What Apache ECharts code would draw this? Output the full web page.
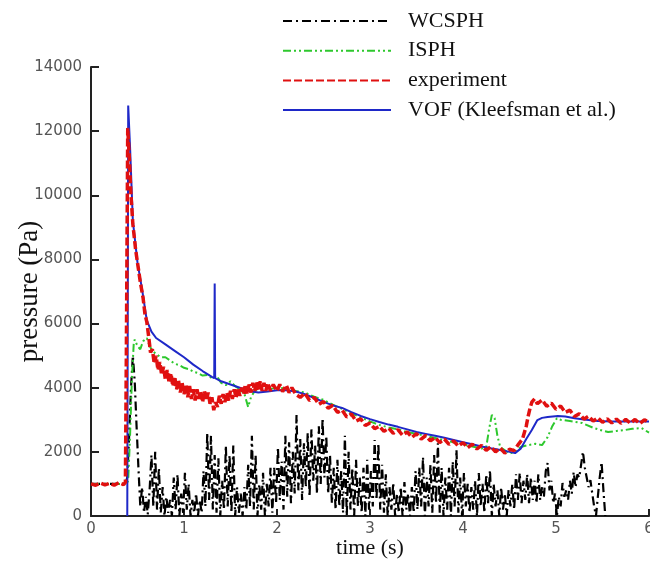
<!DOCTYPE html>
<html>
<head>
<meta charset="utf-8">
<title>pressure (Pa) vs time (s)</title>
<script src="https://cdn.jsdelivr.net/npm/echarts@6/dist/echarts.min.js"></script>
<style>
  html, body { margin: 0; padding: 0; background: #ffffff; }
  #chart { width: 650px; height: 561px; }
</style>
</head>
<body>
<div id="chart"></div>
<script>
// Axis ticks
const timeTicks = [0, 1, 2, 3, 4, 5, 6];
const pressureTicks = [0, 2000, 4000, 6000, 8000, 10000, 12000, 14000];

// Series names
const seriesNames = ['WCSPH', 'ISPH', 'experiment', 'VOF (Kleefsman et al.)'];

// WCSPH: [time (s), pressure (Pa)]
const wcsph = [
  [0,1000],[0.37,1000],[0.39,1200],[0.41,2500],[0.43,4000],[0.45,5000],[0.47,4200],[0.49,2800],[0.51,1500],[0.53,300],
  [0.55,900],[0.57,100],[0.59,600],[0.61,50],[0.63,800],[0.65,1900],[0.67,300],[0.69,2000],[0.71,200],[0.73,1500],
  [0.75,100],[0.77,900],[0.79,0],[0.81,600],[0.83,100],[0.85,500],[0.87,0],[0.89,1200],[0.91,200],[0.93,1300],
  [0.95,0],[0.97,700],[0.99,100],[1.01,1350],[1.03,200],[1.05,1000],[1.07,0],[1.09,500],[1.11,100],[1.13,700],
  [1.15,0],[1.17,500],[1.19,100],[1.21,1400],[1.23,300],[1.25,2600],[1.27,500],[1.29,2500],[1.31,200],[1.33,1900],
  [1.35,100],[1.37,1800],[1.39,0],[1.41,1100],[1.43,200],[1.45,2200],[1.47,300],[1.49,1900],[1.51,100],[1.53,2200],
  [1.55,0],[1.57,900],[1.59,100],[1.61,700],[1.63,0],[1.65,900],[1.67,200],[1.69,1600],[1.71,300],[1.73,2500],
  [1.75,200],[1.77,1900],[1.79,0],[1.81,1000],[1.83,200],[1.85,1350],[1.87,0],[1.89,1000],[1.91,300],[1.93,1500],
  [1.95,100],[1.97,1500],[1.99,400],[2.01,2150],[2.03,500],[2.05,1700],[2.07,200],[2.09,2500],[2.11,600],[2.13,2300],
  [2.15,400],[2.17,2000],[2.19,700],[2.21,3150],[2.23,800],[2.25,2400],[2.27,500],[2.29,2270],[2.31,900],[2.33,2600],
  [2.35,600],[2.37,2700],[2.39,1100],[2.41,2200],[2.43,700],[2.45,2800],[2.47,1000],[2.49,3050],[2.51,1200],[2.53,2500],
  [2.55,700],[2.57,1900],[2.59,400],[2.61,1500],[2.63,200],[2.65,1750],[2.67,300],[2.69,1400],[2.71,100],[2.73,2500],
  [2.75,0],[2.77,2000],[2.79,200],[2.81,1500],[2.83,0],[2.85,1750],[2.87,300],[2.89,1200],[2.91,100],[2.93,1500],
  [2.95,0],[2.97,1750],[2.99,200],[3.01,1400],[3.03,300],[3.05,2370],[3.07,500],[3.09,2270],[3.11,200],[3.13,1600],
  [3.15,100],[3.17,1300],[3.19,0],[3.21,900],[3.23,200],[3.25,1030],[3.27,0],[3.29,700],[3.31,100],[3.33,900],
  [3.35,0],[3.37,1060],[3.39,200],[3.41,700],[3.43,0],[3.45,900],[3.47,100],[3.49,1400],[3.51,200],[3.53,1500],
  [3.55,300],[3.57,1840],[3.59,0],[3.61,1200],[3.63,300],[3.65,1600],[3.67,100],[3.69,1900],[3.71,400],[3.73,2270],
  [3.75,100],[3.77,1500],[3.79,0],[3.81,1200],[3.83,200],[3.85,1500],[3.87,0],[3.89,1700],[3.91,300],[3.93,2060],
  [3.95,100],[3.97,1200],[3.99,0],[4.01,1340],[4.03,300],[4.05,1000],[4.07,100],[4.09,900],[4.11,200],[4.13,1100],
  [4.15,0],[4.17,1340],[4.19,300],[4.21,1000],[4.23,100],[4.25,1300],[4.27,400],[4.29,1430],[4.31,0],[4.33,1000],
  [4.35,300],[4.37,800],[4.39,0],[4.41,900],[4.43,200],[4.45,700],[4.47,0],[4.49,810],[4.51,300],[4.53,1000],
  [4.55,200],[4.57,1300],[4.59,500],[4.61,1340],[4.63,400],[4.65,1100],[4.67,500],[4.69,1300],[4.71,400],[4.73,1200],
  [4.75,500],[4.77,1100],[4.79,400],[4.81,1300],[4.83,500],[4.85,900],[4.87,600],[4.89,1400],[4.91,1650],[4.93,800],
  [4.95,1100],[4.97,400],[4.99,700],[5.01,0],[5.03,600],[5.05,300],[5.07,1030],[5.09,600],[5.11,800],[5.13,500],
  [5.15,1100],[5.17,700],[5.19,1370],[5.21,900],[5.23,1300],[5.25,1200],[5.27,1600],[5.29,2000],[5.31,1500],[5.33,1200],
  [5.35,900],[5.37,1120],[5.39,700],[5.41,300],[5.43,0],[5.45,600],[5.47,1200],[5.49,1680],[5.51,800],[5.53,0]
];

// ISPH: [time (s), pressure (Pa)]
const isph = [
  [0,1000],[0.38,1000],[0.40,1100],[0.42,2500],[0.44,4300],[0.46,5400],[0.47,5500],[0.50,5300],[0.53,5200],[0.56,5450],
  [0.60,5550],[0.63,5300],[0.66,5150],[0.70,5050],[0.75,4950],[0.80,4950],[0.85,4850],[0.90,4750],[0.95,4700],[1.00,4620],
  [1.05,4580],[1.10,4500],[1.15,4460],[1.20,4380],[1.25,4400],[1.30,4300],[1.35,4380],[1.40,4150],[1.45,4080],[1.50,4200],
  [1.55,4050],[1.60,3950],[1.65,3800],[1.69,3400],[1.72,3700],[1.76,3900],[1.80,3980],[1.90,3950],[2.00,4000],[2.10,3980],
  [2.20,3900],[2.30,3850],[2.40,3720],[2.50,3620],[2.60,3470],[2.70,3340],[2.80,3200],[2.90,3080],[3.00,2950],[3.10,2840],
  [3.20,2760],[3.30,2700],[3.40,2620],[3.50,2560],[3.60,2500],[3.70,2430],[3.80,2360],[3.90,2300],[4.00,2230],[4.10,2170],
  [4.20,2100],[4.25,2150],[4.28,2700],[4.31,3150],[4.34,3050],[4.37,2500],[4.40,2150],[4.45,2050],[4.50,1950],[4.56,2000],
  [4.62,2150],[4.70,2210],[4.78,2250],[4.85,2210],[4.91,2460],[4.96,2800],[5.01,3050],[5.05,3000],[5.15,2960],[5.28,2900],
  [5.40,2750],[5.50,2660],[5.56,2620],[5.65,2650],[5.74,2680],[5.82,2720],[5.92,2740],[6.00,2600]
];

// experiment: [time (s), pressure (Pa)]
const experiment = [
  [0,1000],[0.05,960],[0.10,1030],[0.15,970],[0.20,1020],[0.25,960],[0.30,1040],[0.35,980],[0.37,1050],[0.38,5000],
  [0.395,12100],[0.41,11300],[0.43,10000],[0.45,9100],[0.48,8300],[0.51,7700],[0.53,7300],[0.56,6800],[0.58,6300],[0.60,6050],
  [0.62,5600],[0.64,5100],[0.66,5200],[0.68,4750],[0.70,5000],[0.72,4550],[0.74,4800],[0.76,4400],[0.78,4650],[0.80,4250],
  [0.82,4550],[0.84,4150],[0.86,4450],[0.88,4050],[0.90,4350],[0.92,3950],[0.94,4250],[0.96,3850],[0.98,4150],[1.00,3800],
  [1.02,4100],[1.04,3700],[1.06,4050],[1.08,3650],[1.10,3950],[1.12,3600],[1.14,3950],[1.16,3650],[1.18,3900],[1.20,3550],
  [1.22,3900],[1.24,3600],[1.26,3850],[1.28,3500],[1.30,3700],[1.32,3300],[1.34,3550],[1.36,3400],[1.38,3750],[1.40,3500],
  [1.42,3800],[1.44,3550],[1.46,3850],[1.48,3600],[1.50,3900],[1.52,3650],[1.54,3950],[1.56,3700],[1.58,4000],[1.60,3750],
  [1.62,4000],[1.64,3800],[1.66,4100],[1.68,3800],[1.70,4100],[1.72,3850],[1.74,4150],[1.76,3900],[1.78,4200],[1.80,3900],
  [1.82,4200],[1.84,3900],[1.86,4150],[1.88,3900],[1.90,4150],[1.93,3900],[1.96,4100],[2.00,3900],[2.03,4100],[2.06,3880],
  [2.10,4080],[2.13,3850],[2.16,4000],[2.20,3800],[2.25,3700],[2.30,3830],[2.35,3600],[2.40,3700],[2.45,3480],[2.50,3570],
  [2.55,3360],[2.60,3450],[2.65,3230],[2.70,3300],[2.75,3090],[2.80,3180],[2.85,2960],[2.90,3030],[2.95,2820],[3.00,2900],
  [3.05,2720],[3.10,2800],[3.15,2640],[3.20,2740],[3.25,2580],[3.30,2690],[3.35,2520],[3.40,2620],[3.45,2450],[3.50,2570],
  [3.55,2400],[3.60,2510],[3.65,2340],[3.70,2450],[3.75,2290],[3.80,2400],[3.85,2230],[3.90,2340],[3.95,2180],[4.00,2290],
  [4.05,2130],[4.10,2240],[4.15,2090],[4.20,2200],[4.25,2050],[4.30,2160],[4.35,2000],[4.40,2120],[4.45,1960],[4.50,2080],
  [4.55,2040],[4.60,2250],[4.64,2400],[4.68,2800],[4.70,3100],[4.72,3350],[4.74,3550],[4.77,3650],[4.80,3500],[4.85,3620],
  [4.90,3420],[4.95,3520],[5.00,3330],[5.05,3430],[5.10,3230],[5.15,3300],[5.20,3100],[5.25,3190],[5.30,3020],[5.35,3110],
  [5.40,2960],[5.45,3060],[5.50,2920],[5.55,3030],[5.60,2900],[5.65,3020],[5.70,2890],[5.75,3010],[5.80,2890],[5.85,3010],
  [5.90,2880],[5.95,3000],[6.00,2920]
];

// VOF (Kleefsman et al.): [time (s), pressure (Pa)]
const vof = [
  [0.39,0],[0.395,6000],[0.40,12800],[0.42,11500],[0.45,9200],[0.50,7900],[0.55,7050],[0.60,6100],[0.65,5750],[0.70,5550],
  [0.80,5350],[0.90,5150],[1.00,4950],[1.10,4720],[1.20,4520],[1.30,4340],[1.325,4300],[1.33,7250],[1.335,4300],[1.40,4200],
  [1.50,4100],[1.60,4000],[1.70,3900],[1.80,3850],[1.90,3880],[2.00,3920],[2.10,3920],[2.20,3880],[2.30,3800],[2.40,3680],
  [2.50,3560],[2.60,3450],[2.70,3370],[2.80,3240],[2.90,3120],[3.00,3020],[3.10,2930],[3.20,2850],[3.30,2780],[3.40,2700],
  [3.50,2620],[3.60,2560],[3.70,2500],[3.80,2440],[3.90,2370],[4.00,2300],[4.10,2240],[4.20,2170],[4.30,2110],[4.40,2060],
  [4.50,2000],[4.56,1960],[4.62,2100],[4.68,2400],[4.74,2680],[4.80,2990],[4.85,3060],[4.91,3090],[5.02,3120],[5.10,3100],
  [5.20,3050],[5.30,3010],[5.45,2960],[5.60,2950],[5.80,2950],[6.00,2950]
];

const chart = echarts.init(document.getElementById('chart'), null, { renderer: 'canvas' });

const serifFont = '"Liberation Serif", "Times New Roman", serif';
const sansFont = '"DejaVu Sans", "Liberation Sans", sans-serif';

function lineSeries(name, data, color, width, dash, z) {
  return {
    name: name,
    type: 'line',
    data: data,
    symbol: 'none',
    showSymbol: false,
    smooth: false,
    clip: true,
    z: z,
    lineStyle: { color: color, width: width, type: dash },
    itemStyle: { color: color }
  };
}

chart.setOption({
  animation: false,
  backgroundColor: '#ffffff',
  grid: { left: 91, right: 1, top: 67, bottom: 45, containLabel: false, outerBoundsMode: 'none' },
  legend: {
    orient: 'vertical',
    left: 282,
    top: 9,
    padding: 0,
    itemWidth: 108,
    itemHeight: 14,
    itemGap: 5.7,
    data: seriesNames,
    itemStyle: { opacity: 0 },
    textStyle: {
      fontFamily: serifFont,
      fontSize: 22,
      lineHeight: 24,
      color: '#111111',
      padding: [0, 0, 0, 12]
    }
  },
  xAxis: {
    type: 'value',
    min: timeTicks[0],
    max: timeTicks[timeTicks.length - 1],
    interval: 1,
    name: 'time (s)',
    nameLocation: 'middle',
    nameGap: 21,
    nameMoveOverlap: false,
    nameTextStyle: { fontFamily: serifFont, fontSize: 22, color: '#111111' },
    axisLine: { show: true, lineStyle: { color: '#222222', width: 2 } },
    axisTick: { show: true, inside: true, length: 7, lineStyle: { color: '#222222', width: 2 } },
    axisLabel: { fontFamily: sansFont, fontSize: 15, color: '#555555', margin: 6, formatter: v => String(v) },
    splitLine: { show: false }
  },
  yAxis: {
    type: 'value',
    min: pressureTicks[0],
    max: pressureTicks[pressureTicks.length - 1],
    interval: 2000,
    name: 'pressure (Pa)',
    nameLocation: 'middle',
    nameGap: 48,
    nameMoveOverlap: false,
    nameRotate: 90,
    nameTextStyle: { fontFamily: serifFont, fontSize: 27, color: '#111111' },
    axisLine: { show: true, lineStyle: { color: '#222222', width: 2 } },
    axisTick: { show: true, inside: true, length: 8, lineStyle: { color: '#222222', width: 2 } },
    axisLabel: { fontFamily: sansFont, fontSize: 15, color: '#555555', margin: 9, formatter: v => String(v) },
    splitLine: { show: false }
  },
  series: [
    lineSeries(seriesNames[0], wcsph, '#000000', 2.2, [9, 4, 2, 4], 2),
    lineSeries(seriesNames[1], isph, '#2ec82e', 2, [8, 3, 2, 3, 2, 3], 3),
    lineSeries(seriesNames[3], vof, '#1e28c8', 2, 'solid', 4),
    lineSeries(seriesNames[2], experiment, '#e01010', 3.5, [8, 3], 5)
  ]
});
</script>
</body>
</html>
